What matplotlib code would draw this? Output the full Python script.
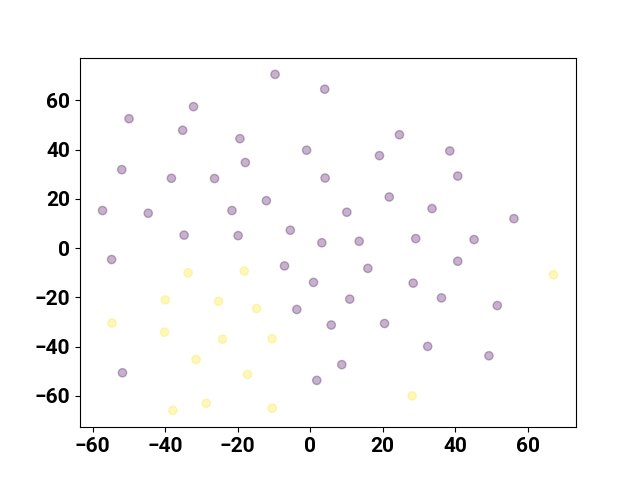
import numpy as np
import matplotlib
matplotlib.use("Agg")
import matplotlib.pyplot as plt

plt.rcParams['font.family'] = ['Roboto', 'DejaVu Sans']
plt.rcParams['font.weight'] = 'bold'
plt.rcParams['font.size'] = 15

# cluster 0 (purple)
x0 = [-9.7, 4.0, -32.2, -50.0, -35.2, -19.4, -1.0, -52.0, -17.9, -38.3,
      -26.4, 4.1, -12.1, -57.3, -44.7, -21.6, -34.8, -19.9, -5.5, 3.2,
      24.6, 19.1, 38.5, 40.7, 21.8, 10.1, 33.6, 56.2, 13.5, 29.1,
      45.2, -54.8, -7.1, 0.9, -3.7, -51.8, 1.8, 5.8, 15.9, 40.7,
      28.4, 10.9, 36.2, 51.6, 20.5, 32.4, 49.3, 8.7]
y0 = [70.6, 64.6, 57.5, 52.6, 47.9, 44.5, 39.8, 31.9, 34.8, 28.4,
      28.3, 28.5, 19.3, 15.3, 14.2, 15.3, 5.3, 5.1, 7.3, 2.2,
      46.1, 37.6, 39.5, 29.3, 20.8, 14.6, 16.1, 12.0, 2.8, 3.9,
      3.5, -4.6, -7.2, -13.9, -24.9, -50.6, -53.7, -31.2, -8.2, -5.3,
      -14.2, -20.7, -20.2, -23.3, -30.6, -39.9, -43.7, -47.3]

# cluster 1 (yellow)
x1 = [-33.7, -18.2, -40.0, -25.3, -14.8, -54.7, -40.2, -24.2, -10.5, -31.5,
      -17.3, -28.7, -37.9, -10.5, 28.1, 67.1]
y1 = [-10.0, -9.3, -21.0, -21.6, -24.5, -30.4, -34.1, -37.0, -36.8, -45.2,
      -51.3, -63.0, -65.9, -65.0, -60.0, -10.8]

x = np.array(x0 + x1)
y = np.array(y0 + y1)
labels = np.array([0] * len(x0) + [1] * len(x1))

fig, ax = plt.subplots(figsize=(6.4, 4.8), dpi=100)
ax.scatter(x, y, c=labels, cmap='viridis', alpha=0.3)

fig.savefig("out.png")
